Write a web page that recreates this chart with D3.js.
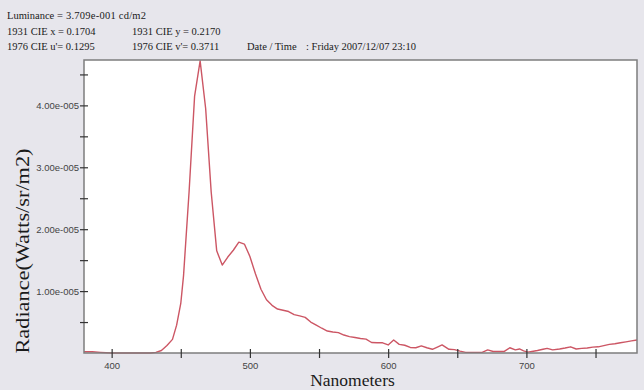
<!DOCTYPE html>
<html>
<head>
<meta charset="utf-8">
<script src="https://cdn.jsdelivr.net/npm/d3@7"></script>
<style>
html,body{margin:0;padding:0;background:#e7e6ec;}
svg{display:block;}
</style>
</head>
<body>
<div id="chart"></div>
<script>
// ---- data ----
const wavelengths = [380,386,392,400,410,420,428,432,436,440,444,447,450,452,456,460,464,468,472,476,480,484,488,492,496,500,504,508,512,516,520,524,528,532,536,540,544,548,552,556,560,564,568,572,576,580,584,588,592,596,600,604,608,612,616,620,624,628,632,636,639,644,648,652,656,660,664,668,672,676,680,684,688,692,695,698,701,704,708,712,715,719,724,728,732,736,740,744,748,752,756,760,764,768,772,776,780];
// radiance in units of 1e-5 W/sr/m2
const radianceE5 = [0.02,0.02,0.01,0.0,0.0,0.0,0.0,0.01,0.04,0.12,0.22,0.45,0.80,1.25,2.60,4.15,4.72,3.95,2.60,1.65,1.42,1.55,1.66,1.79,1.76,1.56,1.28,1.03,0.86,0.77,0.71,0.69,0.67,0.62,0.60,0.575,0.50,0.45,0.40,0.355,0.34,0.33,0.29,0.265,0.25,0.235,0.225,0.17,0.165,0.165,0.13,0.21,0.14,0.125,0.09,0.085,0.115,0.085,0.06,0.10,0.13,0.06,0.055,0.03,0.01,0.01,0.01,0.01,0.05,0.025,0.025,0.025,0.085,0.05,0.065,0.035,0.015,0.025,0.04,0.06,0.075,0.05,0.065,0.08,0.10,0.065,0.075,0.08,0.095,0.10,0.12,0.14,0.15,0.165,0.18,0.195,0.21];
const xMajorTicks = [400,500,600,700];
const xAllTicks = [400,450,500,550,600,650,700,750];
const yMajorTicks = [1e-5,2e-5,3e-5,4e-5];
const yMajorLabels = ["1.00e-005","2.00e-005","3.00e-005","4.00e-005"];
const yAllTicks = [0.5e-5,1e-5,1.5e-5,2e-5,2.5e-5,3e-5,3.5e-5,4e-5,4.5e-5];
const luminanceLabel = "Luminance";
const luminanceValue = "= 3.709e-001 cd/m2";
const cieRow1 = ["1931 CIE x = 0.1704","1931 CIE y = 0.2170"];
const cieRow2 = ["1976 CIE u'= 0.1295","1976 CIE v'= 0.3711"];
const dateLabel = "Date / Time";
const dateValue = ": Friday 2007/12/07 23:10";
const xTitle = "Nanometers";
const yTitle = "Radiance(Watts/sr/m2)";

// ---- layout ----
const W = 644, H = 390;
const plot = {left:84, right:637, top:60, bottom:353};
const svg = d3.select("#chart").append("svg").attr("width",W).attr("height",H);
svg.append("rect").attr("width",W).attr("height",H).attr("fill","#e7e6ec");

const x = d3.scaleLinear().domain([380,780]).range([plot.left,plot.right]);
const y = d3.scaleLinear().domain([0,4.733e-5]).range([plot.bottom,plot.top]);

// plot background
svg.append("rect").attr("x",plot.left).attr("y",plot.top)
  .attr("width",plot.right-plot.left).attr("height",plot.bottom-plot.top)
  .attr("fill","#ffffff");

// header text
const serif = "'Liberation Serif','Times New Roman',serif";
const hdr = svg.append("g").attr("font-family",serif).attr("font-size",10.5).attr("fill","#1a1a1a");
hdr.append("text").attr("x",7).attr("y",19).text(luminanceLabel);
hdr.append("text").attr("x",57).attr("y",19).attr("textLength",89).attr("lengthAdjust","spacing").text(luminanceValue);
hdr.append("text").attr("x",7).attr("y",34.5).text(cieRow1[0]);
hdr.append("text").attr("x",132).attr("y",34.5).text(cieRow1[1]);
hdr.append("text").attr("x",7).attr("y",50).text(cieRow2[0]);
hdr.append("text").attr("x",132).attr("y",50).text(cieRow2[1]);
hdr.append("text").attr("x",247).attr("y",50).text(dateLabel);
hdr.append("text").attr("x",306).attr("y",50).text(dateValue);

// data line
const data = wavelengths.map((w,i)=>({w, v: radianceE5[i]*1e-5}));
svg.append("path").datum(data)
  .attr("fill","none").attr("stroke","#cc5664").attr("stroke-width",1.4)
  .attr("stroke-linejoin","round")
  .attr("d", d3.line().x(d=>x(d.w)).y(d=>y(d.v)));

// frame
svg.append("rect").attr("x",plot.left).attr("y",plot.top)
  .attr("width",plot.right-plot.left).attr("height",plot.bottom-plot.top)
  .attr("fill","none").attr("stroke","#7d7d7d").attr("stroke-width",1.5);

// y axis
const sans = "'Liberation Sans',Arial,sans-serif";
const yAxisG = svg.append("g").attr("transform",`translate(${plot.left},0)`)
  .call(d3.axisLeft(y).tickValues(yAllTicks).tickSize(4).tickSizeOuter(0)
    .tickFormat(d=>{const i=yMajorTicks.findIndex(t=>Math.abs(t-d)<1e-9);return i>=0?yMajorLabels[i]:"";}));
yAxisG.select(".domain").remove();
yAxisG.selectAll(".tick line").attr("x1",-4).attr("x2",4).attr("stroke","#333").attr("stroke-width",1.2);
yAxisG.selectAll(".tick text").attr("x",-5).attr("font-family",sans).attr("font-size",9.5).attr("fill","#444");

// x axis
const xAxisG = svg.append("g").attr("transform",`translate(0,${plot.bottom})`)
  .call(d3.axisBottom(x).tickValues(xAllTicks).tickSize(5).tickSizeOuter(0)
    .tickFormat(d=>xMajorTicks.includes(d)?String(d):""));
xAxisG.select(".domain").remove();
xAxisG.selectAll(".tick line").attr("y1",-4).attr("y2",5).attr("stroke","#333").attr("stroke-width",1.2);
xAxisG.selectAll(".tick text").attr("y",9).attr("font-family",sans).attr("font-size",9.5).attr("fill","#444");

// axis titles
svg.append("text").attr("x",352.5).attr("y",386).attr("text-anchor","middle")
  .attr("font-family",serif).attr("font-size",17.5).attr("fill","#1a1a1a").text(xTitle);
svg.append("text").attr("transform","translate(29,251) rotate(-90)").attr("text-anchor","middle")
  .attr("font-family",serif).attr("font-size",19).attr("fill","#1a1a1a")
  .attr("textLength",205).attr("lengthAdjust","spacingAndGlyphs").text(yTitle);
</script>
</body>
</html>
